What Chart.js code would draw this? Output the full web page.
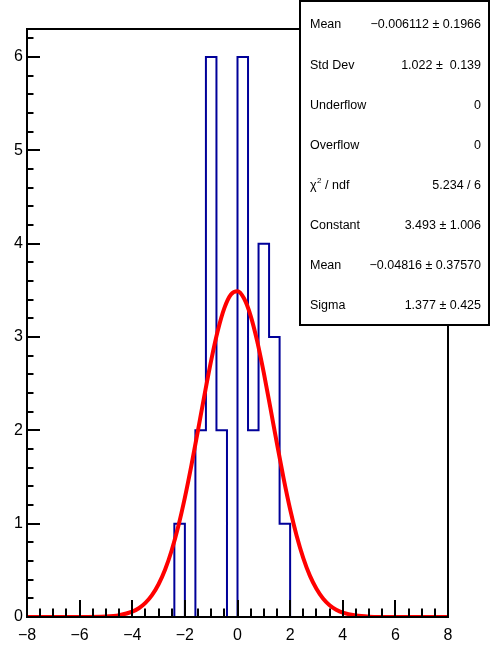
<!DOCTYPE html>
<html>
<head>
<meta charset="utf-8">
<script src="https://cdn.jsdelivr.net/npm/chart.js@4"></script>
<style>
  body { margin: 0; background: #fff; }
  canvas { display: block; }
</style>
</head>
<body>
<canvas id="histo" width="490" height="645"></canvas>
<script>
// Histogramme : 40 bins entre -8 et 8
const xRange = [-8, 8];
const binCounts = [
  0, 0, 0, 0, 0, 0, 0, 0, 0, 0,
  0, 0, 0, 0, 1, 0, 2, 6, 2, 0,
  6, 2, 4, 3, 1, 0, 0, 0, 0, 0,
  0, 0, 0, 0, 0, 0, 0, 0, 0, 0
];

// Courbe de l'ajustement gaussien
const fitX = [-8, -6, -5, -4.5, -4, -3.75, -3.5, -3.25, -3, -2.75, -2.5, -2.25, -2, -1.75, -1.5, -1.25,
  -1, -0.75, -0.5, -0.25, 0, 0.25, 0.5, 0.75, 1, 1.25, 1.5, 1.75, 2, 2.25, 2.5, 2.75,
  3, 3.25, 3.5, 3.75, 4, 4.5, 5, 6, 8];
const fitY = [0, 0, 0.005, 0.019, 0.057, 0.094, 0.151, 0.234, 0.351, 0.509, 0.715, 0.972, 1.279, 1.627, 2.003, 2.386,
  2.750, 3.067, 3.310, 3.456, 3.491, 3.412, 3.227, 2.953, 2.615, 2.240, 1.857, 1.489, 1.155, 0.868, 0.631, 0.443,
  0.302, 0.198, 0.126, 0.078, 0.046, 0.015, 0.004, 0, 0];

const xTicks = [-8, -6, -4, -2, 0, 2, 4, 6, 8];
const yTicks = [0, 1, 2, 3, 4, 5, 6];
const yMax = 6.3;

// Boite de statistiques
const statLabels = ["Mean", "Std Dev", "Underflow", "Overflow", "chi2", "Constant", "Mean", "Sigma"];
const statValues = ["\u22120.006112 \u00b1 0.1966", "1.022 \u00b1  0.139", "0", "0", "5.234 / 6",
  "3.493 \u00b1 1.006", "\u22120.04816 \u00b1 0.37570", "1.377 \u00b1 0.425"];

const FONT = "'Liberation Sans', Arial, Helvetica, sans-serif";

// Points du contour en escalier : un point au bord gauche de chaque bin
const nBins = binCounts.length;
const binW = (xRange[1] - xRange[0]) / nBins;
const histoPoints = binCounts.map((c, i) => ({ x: xRange[0] + i * binW, y: c }));
histoPoints.push({ x: xRange[1], y: 0 });

const fitPoints = fitX.map((x, i) => ({ x: x, y: fitY[i] }));

const moins = v => String(v).replace("-", "\u2212");

// Cadre, graduations et boite de stats
const cadrePlugin = {
  id: "cadre",
  afterDatasetsDraw(chart) {
    const ctx = chart.ctx;
    const a = chart.chartArea;
    const sx = chart.scales.x;
    const sy = chart.scales.y;
    ctx.save();
    ctx.strokeStyle = "#000";
    ctx.lineWidth = 2;
    ctx.strokeRect(a.left, a.top, a.right - a.left, a.bottom - a.top);

    // graduations x (vers le haut)
    for (let v = xRange[0]; v <= xRange[1] + 1e-9; v += 0.5) {
      const px = Math.round(sx.getPixelForValue(v));
      const major = Math.abs(v % 2) < 1e-9;
      ctx.beginPath();
      ctx.moveTo(px, a.bottom);
      ctx.lineTo(px, a.bottom - (major ? 17 : 8.5));
      ctx.stroke();
    }
    // graduations y (vers la droite)
    for (let v = 0; v <= yMax + 1e-9; v += 0.2) {
      const py = Math.round(sy.getPixelForValue(v));
      const major = Math.abs(v - Math.round(v)) < 1e-6;
      ctx.beginPath();
      ctx.moveTo(a.left, py);
      ctx.lineTo(a.left + (major ? 13 : 6.5), py);
      ctx.stroke();
    }

    // boite de statistiques
    const bx = 300, by = 1, bw = 189, bh = 324;
    ctx.fillStyle = "#fff";
    ctx.fillRect(bx, by, bw, bh);
    ctx.lineWidth = 2;
    ctx.strokeRect(bx, by, bw, bh);
    ctx.fillStyle = "#000";
    ctx.font = "12.5px " + FONT;
    ctx.textBaseline = "middle";
    for (let i = 0; i < statLabels.length; i++) {
      const y = 25 + i * 40.1;
      ctx.textAlign = "left";
      if (statLabels[i] === "chi2") {
        ctx.fillText("\u03c7", 310, y);
        const w = ctx.measureText("\u03c7").width;
        ctx.font = "8px " + FONT;
        ctx.fillText("2", 310 + w + 0.5, y - 5);
        ctx.font = "12.5px " + FONT;
        ctx.fillText(" / ndf", 310 + w + 5, y);
      } else {
        ctx.fillText(statLabels[i], 310, y);
      }
      ctx.textAlign = "right";
      ctx.fillText(statValues[i], 481, y);
    }
    ctx.restore();
  }
};

new Chart(document.querySelector("#histo"), {
  type: "line",
  data: {
    datasets: [
      {
        label: "histo",
        data: histoPoints,
        stepped: "before",
        borderColor: "#000099",
        borderWidth: 2,
        pointRadius: 0,
        fill: false,
        order: 2
      },
      {
        label: "fit",
        data: fitPoints,
        cubicInterpolationMode: "monotone",
        borderColor: "#ff0000",
        borderWidth: 4,
        pointRadius: 0,
        fill: false,
        order: 1
      }
    ]
  },
  options: {
    responsive: false,
    animation: false,
    events: [],
    layout: { padding: { top: 29, right: 42, left: 0, bottom: 0 } },
    plugins: { legend: { display: false }, tooltip: { enabled: false } },
    scales: {
      x: {
        type: "linear",
        min: xRange[0],
        max: xRange[1],
        grid: { display: false, drawTicks: false },
        border: { display: false },
        afterBuildTicks: s => { s.ticks = xTicks.map(v => ({ value: v })); },
        afterFit: s => { s.height = 28; },
        ticks: {
          color: "#000",
          font: { family: FONT, size: 16 },
          padding: 9,
          maxRotation: 0,
          callback: v => moins(v)
        }
      },
      y: {
        min: 0,
        max: yMax,
        grid: { display: false, drawTicks: false },
        border: { display: false },
        afterBuildTicks: s => { s.ticks = yTicks.map(v => ({ value: v })); },
        afterFit: s => { s.width = 27; },
        ticks: {
          color: "#000",
          font: { family: FONT, size: 16 },
          padding: 4,
          callback: v => moins(v)
        }
      }
    }
  },
  plugins: [cadrePlugin]
});
</script>
</body>
</html>
